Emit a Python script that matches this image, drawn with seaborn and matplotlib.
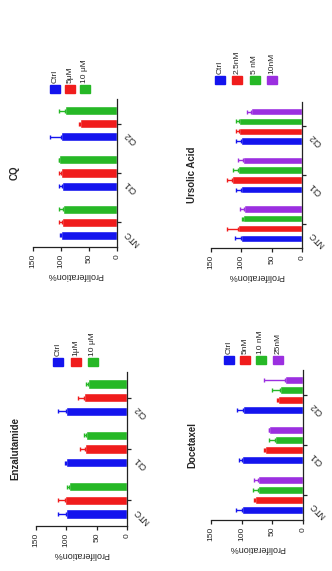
import numpy as np
import pandas as pd
import matplotlib
matplotlib.use("Agg")
import matplotlib.pyplot as plt
import matplotlib.transforms as mtrans
from matplotlib.patches import Rectangle
import seaborn as sns

lines = ['NTC', 'CI1', 'CI2']

enza_doses = ['Ctrl', '1μM', '10 μM']
enza_mean = [[101, 101, 101], [102, 70, 71], [96, 68, 65]]
enza_err = [[13, 1, 13], [11, 7, 10], [3, 3, 2]]

cq_doses = ['Ctrl', '5μM', '10 μM']
cq_mean = [[100, 99, 100], [98, 100, 66], [97, 103, 92]]
cq_err = [[1, 5, 20], [5, 4, 1], [6, 1, 12]]

doce_doses = ['Ctrl', '5nM', '10 nM', '25nM']
doce_mean = [[100, 99, 98], [78, 62, 40], [74, 46, 38], [74, 55, 30]]
doce_err = [[9, 6, 10], [2, 2, 3], [8, 10, 13], [6, 1, 33]]

urso_doses = ['Ctrl', '2.5nM', '5 nM', '10nM']
urso_mean = [[100, 100, 101], [105, 115, 104], [98, 105, 104], [95, 97, 84]]
urso_err = [[11, 8, 7], [18, 8, 5], [1, 8, 5], [7, 8, 6]]

colors = ['#1414ee', '#f01c1c', '#26b826', '#9b2fe0']

W, H = 332, 571
sns.set_style('ticks')
plt.rcParams['font.family'] = ['Liberation Sans', 'DejaVu Sans']
fig = plt.figure(figsize=(W / 100, H / 100), dpi=100)


def make_df(doses, mean, err):
    rows = []
    for d, m, e in zip(doses, mean, err):
        for ln, v, s in zip(lines, m, e):
            rows.append({'line': ln, 'dose': d, 'value': v, 'err': s})
    return pd.DataFrame(rows)


def panel(title, doses, mean, err, box, leg_x, leg_y, gap):
    x0, x1, y0, y1 = box
    ax = fig.add_axes([x0 / W, 1 - y1 / H, (x1 - x0) / W, (y1 - y0) / H])
    df = make_df(doses, mean, err)
    pal = colors[:len(doses)]
    sns.barplot(data=df, x='value', y='line', hue='dose', order=lines,
                hue_order=doses, palette=pal, orient='h', errorbar=None,
                width=0.8, gap=gap, saturation=1, legend=False, ax=ax)
    # one-sided error bars (toward larger values)
    for cont, d, c in zip(ax.containers, doses, pal):
        sub = df[df['dose'] == d].set_index('line').loc[lines]
        for bar, e in zip(cont, sub['err']):
            yc = bar.get_y() + bar.get_height() / 2
            ax.errorbar(bar.get_width(), yc, xerr=[[0], [e]], color=c,
                        lw=1, capsize=1.6, capthick=1)
    ax.set_xlim(150, 0)
    ax.set_ylim(-0.5, 2.5)
    ax.set_xticks([0, 50, 100, 150])
    ax.set_xticklabels(['0', '50', '100', '150'], rotation=90, fontsize=6)
    ax.set_xlabel('Proliferation%', rotation=180, fontsize=6.5, labelpad=2)
    ax.set_ylabel('')
    ax.yaxis.tick_right()
    ax.tick_params(axis='both', length=3, width=0.9, pad=2, color='#222222')
    ax.tick_params(axis='y', pad=3)
    off = mtrans.ScaledTranslation(0, -9 / 100, fig.dpi_scale_trans)
    for lab in ax.get_yticklabels():
        lab.set_rotation(135)
        lab.set_rotation_mode('anchor')
        lab.set_ha('right')
        lab.set_va('center')
        lab.set_fontsize(6.5)
        lab.set_transform(lab.get_transform() + off)
    for s in ['left', 'top']:
        ax.spines[s].set_visible(False)
    for s in ['right', 'bottom']:
        ax.spines[s].set_linewidth(0.9)
        ax.spines[s].set_color('#222222')
    # title on the left side
    fig.text(15 / W, 1 - (y0 + y1) / 2 / H, title, rotation=90, ha='center',
             va='center', fontsize=7, fontweight='bold')
    # legend: squares with text above
    for i, (d, c) in enumerate(zip(doses, pal)):
        cx = leg_x[i]
        fig.patches.append(Rectangle(((cx - 5) / W, 1 - (leg_y + 4) / H),
                                     10 / W, 8 / H, transform=fig.transFigure,
                                     figure=fig, color=c))
        fig.text(cx / W, 1 - (leg_y - 6) / H, d, rotation=90, ha='center',
                 va='bottom', fontsize=6)
    return ax


panel('CQ', cq_doses, cq_mean, cq_err, (33, 117, 99, 247),
      [55, 70, 85], 89, 0.3)
panel('Ursolic Acid', urso_doses, urso_mean, urso_err, (211, 302, 102, 248),
      [220, 237, 255, 272], 80, 0.25)
panel('Enzalutamide', enza_doses, enza_mean, enza_err, (36, 127, 372, 526),
      [58, 76, 93], 362, 0.3)
panel('Docetaxel', doce_doses, doce_mean, doce_err, (211, 303, 370, 520),
      [229, 245, 261, 278], 360, 0.25)

# titles for right column sit closer to their axes
for t in fig.texts:
    if t.get_text() in ('Ursolic Acid', 'Docetaxel'):
        t.set_x(192 / W)

fig.savefig('out.png', dpi=100, facecolor='white')
